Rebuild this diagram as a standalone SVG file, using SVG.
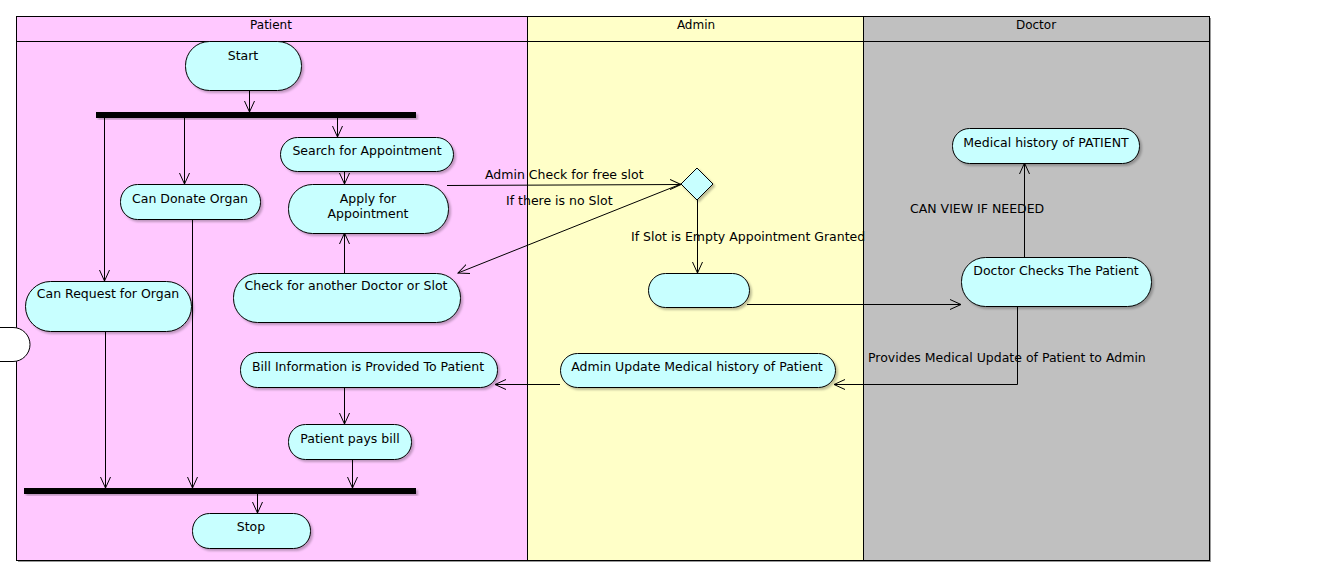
<svg xmlns="http://www.w3.org/2000/svg" width="1334" height="582" viewBox="0 0 1334 582">
<style>
text{font-family:"DejaVu Sans","Liberation Sans",sans-serif;font-size:12.5px;fill:#000}
.h{font-size:12px}
.c{text-anchor:middle}
.node{fill:#C8FFFF;stroke:#000;stroke-width:1;filter:url(#sh)}
.ln{fill:none;stroke:#000;stroke-width:1}
.arr{marker-end:url(#ah)}
.bar{fill:#000;filter:url(#sh)}
</style>
<defs>
<filter id="sh" x="-10%" y="-20%" width="130%" height="150%">
<feDropShadow dx="2" dy="2" stdDeviation="1.2" flood-color="#000" flood-opacity="0.25"/>
</filter>
<marker id="ah" markerUnits="userSpaceOnUse" markerWidth="14" markerHeight="14" refX="11" refY="6" orient="auto" viewBox="0 0 14 12">
<path d="M0,1 L11,6 L0,11" fill="none" stroke="#000" stroke-width="1"/>
</marker>
</defs>
<rect x="0" y="0" width="1334" height="582" fill="#fff"/>
<g id="lanes" shape-rendering="crispEdges">
<rect x="18" y="18" width="1193" height="544" fill="#999"/>
<rect x="16" y="16" width="511" height="544" fill="#FFC8FF"/>
<rect x="527" y="16" width="336" height="544" fill="#FFFFC8"/>
<rect x="863" y="16" width="346" height="544" fill="#C0C0C0"/>
<rect x="16.5" y="16.5" width="1193" height="544" class="ln"/>
<line x1="16" y1="41.5" x2="1209" y2="41.5" class="ln"/>
<line x1="527.5" y1="16" x2="527.5" y2="560" class="ln"/>
<line x1="863.5" y1="16" x2="863.5" y2="560" class="ln"/>
<text x="271" y="29" class="c h">Patient</text>
<text x="696" y="29" class="c h">Admin</text>
<text x="1036" y="29" class="c h">Doctor</text>
</g>
<g id="connectors">
<line x1="249.5" y1="90" x2="249.5" y2="112" class="ln arr"/>
<line x1="104.5" y1="118" x2="104.5" y2="281" class="ln arr"/>
<line x1="184.5" y1="118" x2="184.5" y2="184" class="ln arr"/>
<line x1="337.5" y1="118" x2="337.5" y2="137" class="ln arr"/>
<line x1="344.5" y1="171" x2="344.5" y2="184" class="ln arr"/>
<line x1="344.5" y1="273" x2="344.5" y2="233" class="ln arr"/>
<line x1="447" y1="185.5" x2="681" y2="184.5" class="ln arr"/>
<text x="485" y="179">Admin Check for free slot</text>
<line x1="681" y1="184" x2="458" y2="273" class="ln arr"/>
<text x="506" y="205">If there is no Slot</text>
<line x1="697.5" y1="200" x2="697.5" y2="273" class="ln arr"/>
<text x="631" y="241">If Slot is Empty Appointment Granted</text>
<line x1="747" y1="304.5" x2="961" y2="304.5" class="ln arr"/>
<line x1="1024.5" y1="257" x2="1024.5" y2="163" class="ln arr"/>
<text x="910" y="213">CAN VIEW IF NEEDED</text>
<polyline points="1017.5,306 1017.5,384.5 834,384.5" class="ln arr"/>
<text x="868" y="362">Provides Medical Update of Patient to Admin</text>
<line x1="560" y1="384.5" x2="495" y2="384.5" class="ln arr"/>
<line x1="344.5" y1="387" x2="344.5" y2="424" class="ln arr"/>
<line x1="105.5" y1="331" x2="105.5" y2="488" class="ln arr"/>
<line x1="192.5" y1="219" x2="192.5" y2="488" class="ln arr"/>
<line x1="352.5" y1="459" x2="352.5" y2="488" class="ln arr"/>
<line x1="257.5" y1="494" x2="257.5" y2="513" class="ln arr"/>
</g>
<g id="start"><rect x="185.5" y="41.5" width="116" height="49" rx="24" class="node"/><text x="243" y="60" class="c">Start</text></g>
<g id="fork"><rect x="96" y="112" width="320" height="6" class="bar"/></g>
<g id="search"><rect x="280.5" y="137.5" width="173" height="34" rx="17" class="node"/><text x="367" y="155" class="c">Search for Appointment</text></g>
<g id="donate"><rect x="120.5" y="184.5" width="140" height="35" rx="17" class="node"/><text x="190" y="203" class="c">Can Donate Organ</text></g>
<g id="apply"><rect x="288.5" y="184.5" width="160" height="49" rx="24" class="node"/><text x="368" y="203" class="c">Apply for</text><text x="368" y="218" class="c">Appointment</text></g>
<g id="decision"><polygon points="697,168 713,184 697,200 681,184" class="node"/></g>
<g id="medical-history"><rect x="952.5" y="128.5" width="187" height="35" rx="17" class="node"/><text x="1046" y="147" class="c">Medical history of PATIENT</text></g>
<g id="doctor-checks"><rect x="961.5" y="257.5" width="190" height="49" rx="24" class="node"/><text x="1056" y="275" class="c">Doctor Checks The Patient</text></g>
<g id="empty-node"><rect x="648.5" y="273.5" width="101" height="34" rx="17" class="node"/></g>
<g id="request"><rect x="25.5" y="281.5" width="166" height="50" rx="25" class="node"/><text x="108" y="298" class="c">Can Request for Organ</text></g>
<g id="check-another"><rect x="233.5" y="273.5" width="227" height="49" rx="24" class="node"/><text x="346" y="290" class="c">Check for another Doctor or Slot</text></g>
<g id="left-stub"><rect x="-20" y="327.5" width="50" height="34" rx="17" fill="#fff" stroke="#000" stroke-width="1"/></g>
<g id="admin-update"><rect x="560.5" y="353.5" width="275" height="34" rx="17" class="node"/><text x="697" y="371" class="c">Admin Update Medical history of Patient</text></g>
<g id="bill"><rect x="240.5" y="352.5" width="257" height="35" rx="17" class="node"/><text x="368" y="371" class="c">Bill Information is Provided To Patient</text></g>
<g id="pays"><rect x="288.5" y="424.5" width="123" height="35" rx="17" class="node"/><text x="350" y="443" class="c">Patient pays bill</text></g>
<g id="join"><rect x="24" y="488" width="392" height="6" class="bar"/></g>
<g id="stop"><rect x="192.5" y="513.5" width="118" height="35" rx="17" class="node"/><text x="251" y="531" class="c">Stop</text></g>
</svg>
